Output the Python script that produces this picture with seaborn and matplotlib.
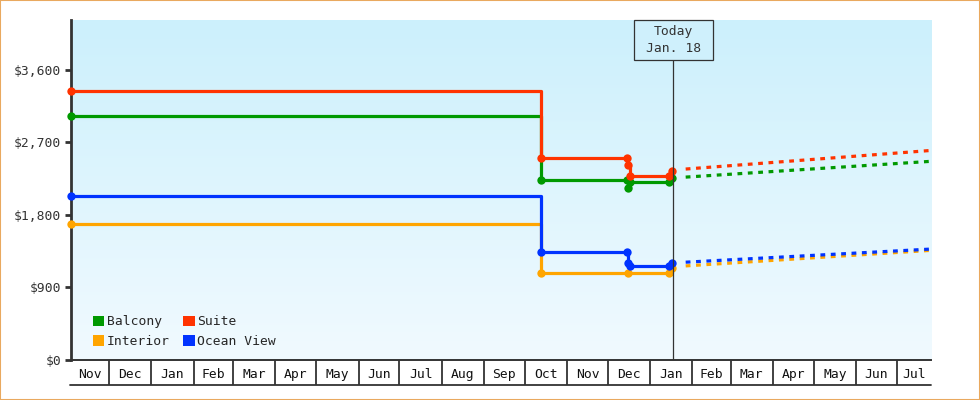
import numpy as np
import pandas as pd
import matplotlib
matplotlib.use("Agg")
import matplotlib.pyplot as plt
import matplotlib.dates as mdates
import matplotlib.ticker as mticker
from matplotlib.patches import Patch, Rectangle
from matplotlib.colors import LinearSegmentedColormap
import seaborn as sns

# ---------------- data ----------------
cabins = ["Balcony", "Suite", "Interior", "Ocean View"]
palette = {"Balcony": "#009900", "Suite": "#ff3300",
           "Interior": "#ffa500", "Ocean View": "#0033ff"}

suite_dates = ["2023-11-03", "2024-10-13", "2024-12-15", "2024-12-16", "2024-12-17", "2025-01-15", "2025-01-17"]
suite_prices = [3340, 2507, 2507, 2420, 2280, 2280, 2350]

balcony_dates = ["2023-11-03", "2024-10-13", "2024-12-15", "2024-12-16", "2024-12-17", "2025-01-15", "2025-01-17"]
balcony_prices = [3024, 2230, 2230, 2134, 2204, 2204, 2255]

ocean_dates = ["2023-11-03", "2024-10-13", "2024-12-15", "2024-12-16", "2024-12-17", "2025-01-15", "2025-01-17"]
ocean_prices = [2031, 1344, 1344, 1200, 1166, 1166, 1200]

interior_dates = ["2023-11-03", "2024-10-13", "2024-12-16", "2025-01-15", "2025-01-17"]
interior_prices = [1684, 1084, 1084, 1084, 1145]

forecast_dates = ["2025-01-27", "2025-07-26"]
suite_forecast = [2370, 2601]
balcony_forecast = [2270, 2466]
ocean_forecast = [1214, 1377]
interior_forecast = [1168, 1361]

today = "2025-01-18"
today_label = "Today\nJan. 18"
x_start, x_end = "2023-11-03", "2025-07-26"
y_ticks = [0, 900, 1800, 2700, 3600]
y_max = 4220

history = {
    "Interior": (interior_dates, interior_prices),
    "Ocean View": (ocean_dates, ocean_prices),
    "Balcony": (balcony_dates, balcony_prices),
    "Suite": (suite_dates, suite_prices),
}
forecast = {
    "Interior": interior_forecast,
    "Ocean View": ocean_forecast,
    "Balcony": balcony_forecast,
    "Suite": suite_forecast,
}

# ---------------- style ----------------
sns.set_style("white")
plt.rcParams["font.family"] = ["DejaVu Sans Mono", "DejaVu Sans"]
FS = 9.4
DARK = "#333333"

fig = plt.figure(figsize=(9.8, 4.0), dpi=100)
ax = fig.add_axes([71 / 980, 40 / 400, 860 / 980, 340 / 400])
ax.set_facecolor("none")

# gradient background
bg = LinearSegmentedColormap.from_list("bg", ["#ccf0fc", "#f1faff"])
ax.imshow(np.linspace(0, 1, 256).reshape(-1, 1), cmap=bg, extent=[0, 1, 0, 1],
          transform=ax.transAxes, aspect="auto", zorder=0, origin="upper")

# history step lines
for z, (name, (d, p)) in enumerate(history.items()):
    df = pd.DataFrame({"date": pd.to_datetime(d), "price": p})
    sns.lineplot(data=df, x="date", y="price", ax=ax, color=palette[name],
                 estimator=None, drawstyle="steps-post", marker="o",
                 markersize=6, markeredgewidth=0, linewidth=2.3,
                 clip_on=False, zorder=3 + z)

# forecast dotted lines
for z, (name, vals) in enumerate(forecast.items()):
    df = pd.DataFrame({"date": pd.to_datetime(forecast_dates), "price": vals})
    sns.lineplot(data=df, x="date", y="price", ax=ax, color=palette[name],
                 estimator=None, linewidth=2.3, linestyle=(0, (1.5, 1.75)),
                 zorder=3 + z)

# axes limits
xmin, xmax = pd.Timestamp(x_start), pd.Timestamp(x_end)
ax.set_xlim(xmin, xmax)
ax.set_ylim(0, y_max)

# y axis
ax.set_yticks(y_ticks)
ax.yaxis.set_major_formatter(mticker.FuncFormatter(lambda v, p: f"${v:,.0f}"))
ax.tick_params(axis="y", length=4, width=2, color=DARK, pad=3,
               labelsize=FS, labelcolor=DARK, left=True)
ax.set_xlabel("")
ax.set_ylabel("")

# x axis: month boxes
month_starts = pd.date_range("2023-12-01", "2025-07-01", freq="MS")
bounds = [xmin] + list(month_starts) + [xmax]
mids = [a + (b - a) / 2 for a, b in zip(bounds[:-1], bounds[1:])]
labels = [a.strftime("%b") for a in bounds[:-1]]
ax.set_xticks(mdates.date2num(month_starts))
ax.set_xticklabels([])
ax.set_xticks(mdates.date2num(mids), minor=True)
ax.set_xticklabels(labels, minor=True)
ax.tick_params(axis="x", which="major", length=18, width=1.3, color=DARK,
               direction="out", bottom=True)
ax.tick_params(axis="x", which="minor", length=0, pad=5.5, labelsize=FS,
               labelcolor="#111111", bottom=True)
ax.plot([-1 / 860, 1], [-25 / 340, -25 / 340], transform=ax.transAxes,
        color=DARK, lw=1.3, clip_on=False)

for s in ["top", "right"]:
    ax.spines[s].set_visible(False)
ax.spines["left"].set_color(DARK)
ax.spines["left"].set_linewidth(2)
ax.spines["bottom"].set_color(DARK)
ax.spines["bottom"].set_linewidth(1.4)
ax.grid(False)

# today marker
t_num = mdates.date2num(pd.Timestamp(today))
x0n, x1n = mdates.date2num(xmin), mdates.date2num(xmax)
tx = (t_num - x0n) / (x1n - x0n)
box_w, box_h = 79 / 860, 40 / 340
ax.axvline(pd.Timestamp(today), ymin=0, ymax=1 - box_h, color=DARK, lw=0.9, zorder=10)
ax.add_patch(Rectangle((tx - box_w / 2, 1 - box_h), box_w, box_h, transform=ax.transAxes,
                       facecolor="#cff0fc", edgecolor=DARK, lw=0.9, zorder=11, clip_on=False))
ax.text(tx, 1 - box_h / 2, today_label, transform=ax.transAxes, ha="center", va="center",
        fontsize=FS, color=DARK, linespacing=1.3, zorder=12)

# legend
order = ["Balcony", "Interior", "Suite", "Ocean View"]
handles = [Patch(facecolor=palette[n], edgecolor="none", label=n) for n in order]
ax.legend(handles=handles, ncol=2, loc="lower left", bbox_to_anchor=(22 / 860, 12 / 340),
          frameon=False, borderaxespad=0, borderpad=0, handlelength=0.85,
          handleheight=0.85, handletextpad=0.2, columnspacing=1.05,
          labelspacing=0.5, prop={"size": FS})

# figure border
fig.patches.append(Rectangle((0, 0), 1, 1, transform=fig.transFigure, fill=False,
                             edgecolor="#e9a95f", lw=1.5))

fig.savefig("out.png", dpi=100)
